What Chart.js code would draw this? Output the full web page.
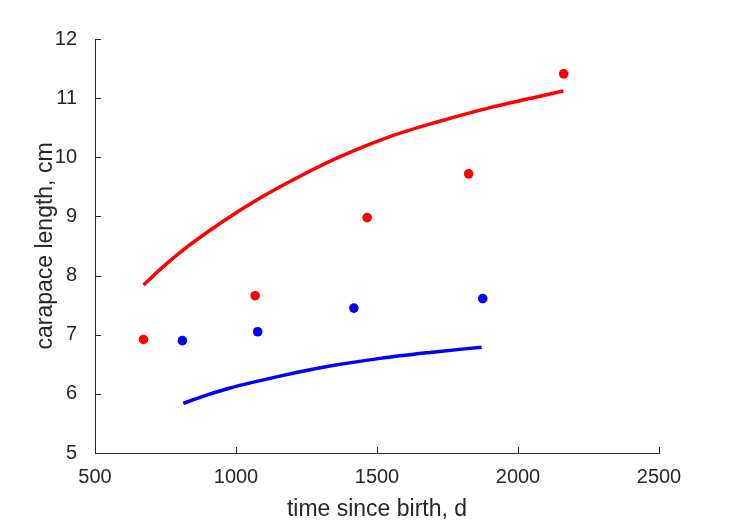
<!DOCTYPE html>
<html><head><meta charset="utf-8">
<script src="https://cdn.jsdelivr.net/npm/chart.js@4"></script>
<style>html,body{margin:0;padding:0;background:#fff}#wrap{width:729px;height:521px}</style>
</head><body><div id="wrap"><canvas id="c" width="729" height="521"></canvas></div>
<script>
const redDotsX = [672, 1068, 1465, 1825, 2162];
const redDotsY = [6.92, 7.66, 8.98, 9.72, 11.41];
const blueDotsX = [810, 1077, 1418, 1875];
const blueDotsY = [6.90, 7.05, 7.45, 7.61];
const redCurveX = [672, 737, 801, 943, 1085, 1227, 1369, 1546, 1723, 1901, 2161];
const redCurveY = [7.84, 8.13, 8.39, 8.88, 9.31, 9.68, 10.01, 10.35, 10.61, 10.84, 11.12];
const blueCurveX = [813, 896, 979, 1156, 1333, 1511, 1688, 1871];
const blueCurveY = [5.84, 5.98, 6.10, 6.30, 6.47, 6.60, 6.70, 6.79];
const xTicks = [500, 1000, 1500, 2000, 2500];
const yTicks = [5, 6, 7, 8, 9, 10, 11, 12];

const pts = (xs, ys) => xs.map((x, i) => ({x, y: ys[i]}));
const axisColor = '#262626';
const font = "'Liberation Sans', Arial, Helvetica, sans-serif";

const inwardTicks = {
  id: 'inwardTicks',
  afterDraw(chart) {
    const ctx = chart.ctx, xs = chart.scales.x, ys = chart.scales.y;
    ctx.save();
    ctx.strokeStyle = axisColor; ctx.lineWidth = 1;
    ctx.beginPath();
    xTicks.forEach(v => { const p = Math.round(xs.getPixelForValue(v)) + 0.5; ctx.moveTo(p, ys.bottom); ctx.lineTo(p, ys.bottom - 6); });
    yTicks.forEach(v => { const p = Math.round(ys.getPixelForValue(v)) + 0.5; ctx.moveTo(xs.left, p); ctx.lineTo(xs.left + 6, p); });
    ctx.stroke();
    ctx.restore();
  }
};

new Chart(document.getElementById('c'), {
  type: 'scatter',
  data: {
    datasets: [
      {data: pts(redCurveX, redCurveY), showLine: true, borderColor: '#ff0000', borderWidth: 3.5, pointRadius: 0, cubicInterpolationMode: 'monotone', fill: false},
      {data: pts(blueCurveX, blueCurveY), showLine: true, borderColor: '#0000ff', borderWidth: 3.5, pointRadius: 0, cubicInterpolationMode: 'monotone', fill: false},
      {data: pts(redDotsX, redDotsY), backgroundColor: '#ff0000', borderColor: '#ff0000', pointRadius: 4.8, borderWidth: 0},
      {data: pts(blueDotsX, blueDotsY), backgroundColor: '#0000ff', borderColor: '#0000ff', pointRadius: 4.8, borderWidth: 0}
    ]
  },
  options: {
    responsive: false,
    animation: false,
    layout: {padding: {top: 39, right: 70, left: 0, bottom: 0}},
    plugins: {legend: {display: false}, tooltip: {enabled: false}},
    scales: {
      x: {
        type: 'linear', min: 500, max: 2500,
        afterBuildTicks: s => { s.ticks = xTicks.map(v => ({value: v})); },
        afterFit: s => { s.height = 68; },
        grid: {display: false},
        border: {display: true, color: axisColor, width: 1},
        ticks: {color: axisColor, font: {family: font, size: 20}, padding: 4, maxRotation: 0, callback: v => String(v)},
        title: {display: true, text: 'time since birth, d', color: axisColor, font: {family: font, size: 23}, padding: {top: 0, bottom: -2}}
      },
      y: {
        type: 'linear', min: 5, max: 12,
        afterBuildTicks: s => { s.ticks = yTicks.map(v => ({value: v})); },
        afterFit: s => { s.width = 95; },
        grid: {display: false},
        border: {display: true, color: axisColor, width: 1},
        ticks: {color: axisColor, font: {family: font, size: 20}, padding: 10, callback: v => String(v)},
        title: {display: true, text: 'carapace length, cm', color: axisColor, font: {family: font, size: 23}, padding: {top: 32, bottom: 0}}
      }
    }
  },
  plugins: [inwardTicks]
});
</script></body></html>
